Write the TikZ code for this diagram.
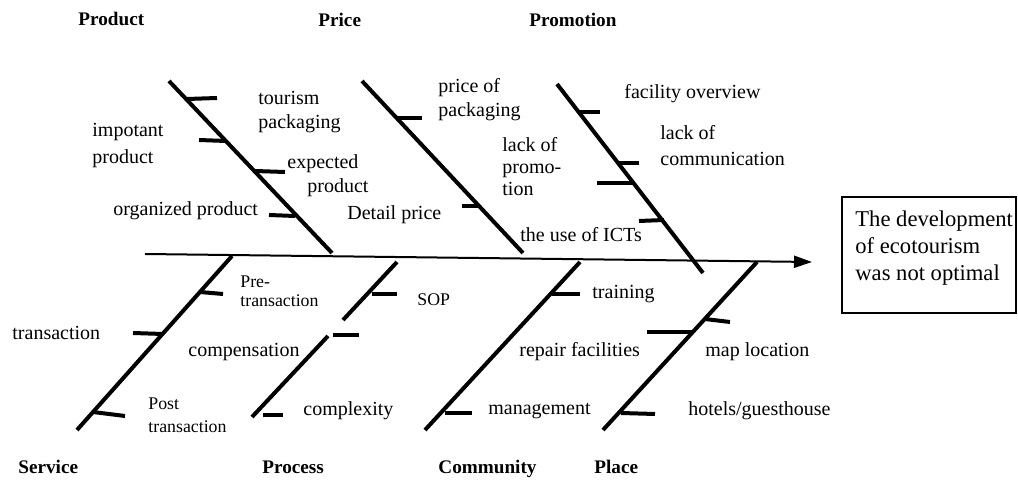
\documentclass[tikz,border=0pt]{standalone}
\usepackage{fontspec}
\setmainfont{Liberation Serif}
\usetikzlibrary{arrows.meta}
\begin{document}
\begin{tikzpicture}[x=0.5pt,y=-0.5pt,
  bone/.style={line width=2pt},
  rib/.style={line width=2pt},
  spine/.style={line width=1pt,-{Triangle[length=9pt,width=6pt]}},
  lbl/.style={anchor=west,inner sep=0pt,align=left,font=\fontsize{10}{12}\selectfont},
  slbl/.style={anchor=west,inner sep=0pt,align=left,font=\fontsize{8.9}{10.5}\selectfont},
  hdr/.style={anchor=base west,inner sep=0pt,font=\fontsize{9.6}{11}\selectfont\bfseries},
  effect/.style={draw,line width=1pt,minimum width=87pt,minimum height=58pt,inner sep=0pt}
]
\useasboundingbox (0,0) rectangle (1018,480);
% spine
\coordinate (s0) at (145,254);
\coordinate (s1) at (812,262);
\draw[spine] (s0) -- (s1);
% effect box
\node[effect] (eff) at (929,255) {};
\node[anchor=north west,inner sep=0pt,align=left,font=\fontsize{11.3}{13.6}\selectfont] (efftxt) at (855,210) {The development\\of ecotourism\\was not optimal};
% top bones
\coordinate (pa) at (169,81);  \coordinate (pb) at (332,253);
\coordinate (ra) at (362,81);  \coordinate (rb) at (523,253);
\coordinate (ma) at (557,84);  \coordinate (mb) at (703,273);
\draw[bone] (pa) -- (pb);
\draw[bone] (ra) -- (rb);
\draw[bone] (ma) -- (mb);
% product ribs
\draw[rib] (187,99) -- (217,98);
\draw[rib] (199,140) -- (226,141);
\draw[rib] (255,171) -- (285,172);
\draw[rib] (269,215) -- (295,216);
% price ribs
\draw[rib] (397,118) -- (422,118);
\draw[rib] (462,206) -- (479,206);
% promotion ribs
\draw[rib] (578,112) -- (600,112);
\draw[rib] (617,163) -- (639,163);
\draw[rib] (597,183) -- (634,183);
\draw[rib] (639,221) -- (664,220);
% bottom bones
\coordinate (sa) at (232,256); \coordinate (sb) at (77,430);
\coordinate (ca) at (397,262); \coordinate (cm1) at (343,320);
\coordinate (cm2) at (328,336); \coordinate (cb) at (252,417);
\coordinate (ua) at (580,262); \coordinate (ub) at (425,430);
\coordinate (la) at (757,262); \coordinate (lb) at (603,430);
\draw[bone] (sa) -- (sb);
\draw[bone] (ca) -- (cm1);
\draw[bone] (cm2) -- (cb);
\draw[bone] (ua) -- (ub);
\draw[bone] (la) -- (lb);
% service ribs
\draw[rib] (200,292) -- (223,294);
\draw[rib] (133,333) -- (163,334);
\draw[rib] (93,412) -- (125,416);
% process ribs
\draw[rib] (372,294) -- (397,294);
\draw[rib] (333,335) -- (359,335);
\draw[rib] (263,415) -- (283,415);
% community ribs
\draw[rib] (552,294) -- (580,294);
\draw[rib] (445,413) -- (472,413);
% place ribs
\draw[rib] (705,319) -- (730,322);
\draw[rib] (647,332) -- (693,332);
\draw[rib] (621,413) -- (655,414);
% headers
\node[hdr] (hprod) at (78,26) {Product};
\node[hdr] (hprice) at (318,27) {Price};
\node[hdr] (hprom) at (529,27) {Promotion};
\node[hdr] (hserv) at (18,474) {Service};
\node[hdr] (hproc) at (262,474) {Process};
\node[hdr] (hcomm) at (438,474) {Community};
\node[hdr] (hplace) at (594,474) {Place};
% top labels
\node[lbl] (t1) at (258,112) {tourism\\packaging};
\node[lbl,font=\fontsize{10}{13.5}\selectfont] (t2) at (92,146) {impotant\\product};
\node[lbl] (t3) at (287,176) {expected\\\hspace*{10pt}product};
\node[lbl] (t4) at (113,211) {organized product};
\node[lbl] (t5) at (438,100) {price of\\packaging};
\node[lbl,font=\fontsize{10}{11}\selectfont] (t6) at (502,167) {lack of\\promo-\\tion};
\node[lbl] (t7) at (347,215) {Detail price};
\node[lbl] (t8) at (520,235) {the use of ICTs};
\node[lbl] (t9) at (624,94) {facility overview};
\node[lbl,font=\fontsize{10}{13}\selectfont] (t10) at (660,146) {lack of\\communication};
% bottom labels
\node[slbl,font=\fontsize{8.9}{9.5}\selectfont] (b1) at (240,291) {Pre-\\transaction};
\node[lbl] (b2) at (12,333) {transaction};
\node[lbl] (b3) at (188,352) {compensation};
\node[slbl,font=\fontsize{8.9}{11.5}\selectfont] (b4) at (148,415) {Post\\transaction};
\node[slbl] (b5) at (417,300) {SOP};
\node[lbl] (b6) at (303,411) {complexity};
\node[lbl] (b7) at (592,294) {training};
\node[lbl] (b8) at (519,352) {repair facilities};
\node[lbl] (b9) at (488,411) {management};
\node[lbl] (b10) at (705,352) {map location};
\node[lbl] (b11) at (688,411) {hotels/guesthouse};
\end{tikzpicture}
\end{document}
